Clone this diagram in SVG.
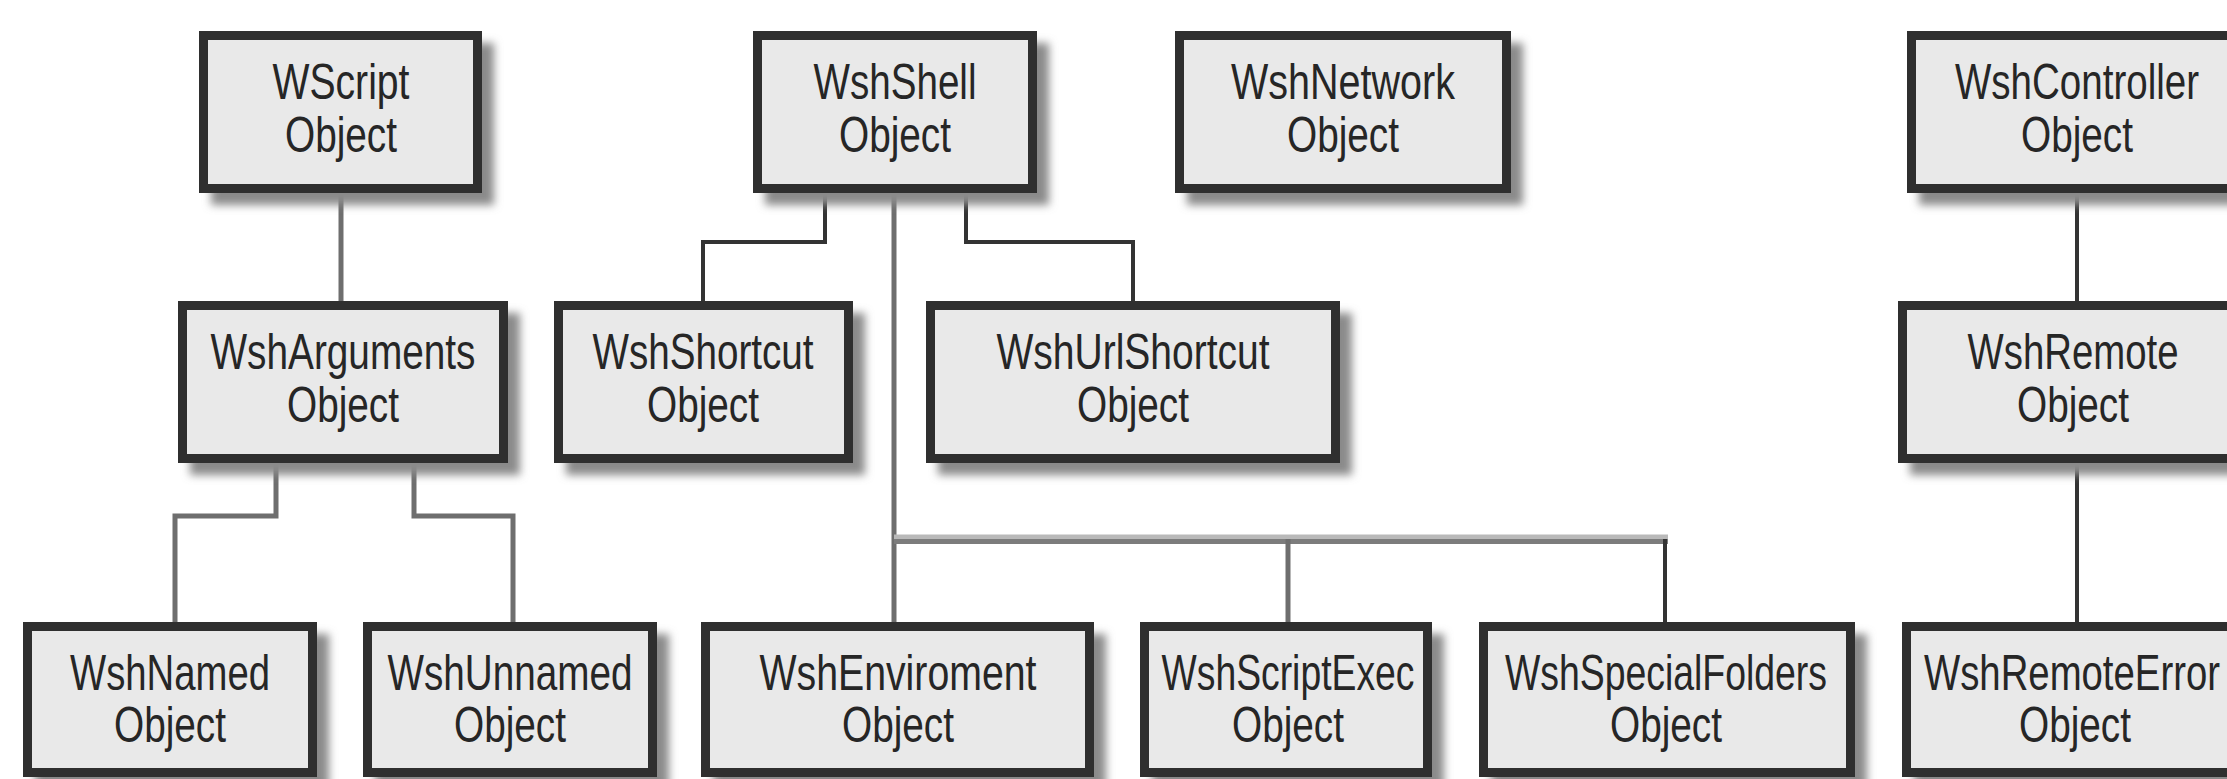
<svg xmlns="http://www.w3.org/2000/svg" width="2227" height="779" viewBox="0 0 2227 779">
<style>
.box{fill:#e9e9e9;stroke:#2f2f2f;stroke-width:9}
.sh{fill:#8a8a8a;filter:url(#blur)}
.t{font-family:"Liberation Sans",Arial,sans-serif;font-size:50px;fill:#262626;text-anchor:middle}
.c{fill:none;stroke:#6e6e6e;stroke-width:5}
.cd{fill:none;stroke:#333;stroke-width:4}
</style>
<defs>
<filter id="blur" x="-20%" y="-20%" width="140%" height="140%"><feGaussianBlur stdDeviation="4"/></filter>
</defs>
<rect width="2227" height="779" fill="#fff"/>
<g id="connectors">
<path class="c" d="M341,193 V301"/>
<path class="cd" d="M825,193 V242 H703 V301"/>
<path class="cd" d="M966,193 V242 H1133 V301"/>
<path class="c" d="M894,193 V622"/>
<path d="M894,537 H1668" fill="none" stroke="#b9b9b9" stroke-width="5"/>
<path d="M894,541.5 H1668" fill="none" stroke="#7c7c7c" stroke-width="5"/>
<path class="c" d="M1288,539 V622"/>
<path class="cd" d="M1665,539 V622"/>
<path class="c" d="M276,463 V516 H175 V622"/>
<path class="c" d="M414,463 V516 H513 V622"/>
<path class="cd" d="M2077,193 V301"/>
<path class="cd" d="M2077,463 V622"/>
</g>
<g id="WScript">
<rect class="sh" x="211" y="43" width="283" height="162"/>
<rect class="box" x="203.5" y="35.5" width="274" height="153"/>
<text class="t" x="341" y="99" textLength="137" lengthAdjust="spacingAndGlyphs">WScript</text>
<text class="t" x="341" y="152" textLength="112" lengthAdjust="spacingAndGlyphs">Object</text>
</g>
<g id="WshShell">
<rect class="sh" x="765" y="43" width="284" height="162"/>
<rect class="box" x="757.5" y="35.5" width="275" height="153"/>
<text class="t" x="895" y="99" textLength="163" lengthAdjust="spacingAndGlyphs">WshShell</text>
<text class="t" x="895" y="152" textLength="112" lengthAdjust="spacingAndGlyphs">Object</text>
</g>
<g id="WshNetwork">
<rect class="sh" x="1187" y="43" width="336" height="162"/>
<rect class="box" x="1179.5" y="35.5" width="327" height="153"/>
<text class="t" x="1343" y="99" textLength="224" lengthAdjust="spacingAndGlyphs">WshNetwork</text>
<text class="t" x="1343" y="152" textLength="112" lengthAdjust="spacingAndGlyphs">Object</text>
</g>
<g id="WshController">
<rect class="sh" x="1919" y="43" width="340" height="162"/>
<rect class="box" x="1911.5" y="35.5" width="331" height="153"/>
<text class="t" x="2077" y="99" textLength="244" lengthAdjust="spacingAndGlyphs">WshController</text>
<text class="t" x="2077" y="152" textLength="112" lengthAdjust="spacingAndGlyphs">Object</text>
</g>
<g id="WshArguments">
<rect class="sh" x="190" y="313" width="330" height="162"/>
<rect class="box" x="182.5" y="305.5" width="321" height="153"/>
<text class="t" x="343" y="369" textLength="265" lengthAdjust="spacingAndGlyphs">WshArguments</text>
<text class="t" x="343" y="422" textLength="112" lengthAdjust="spacingAndGlyphs">Object</text>
</g>
<g id="WshShortcut">
<rect class="sh" x="566" y="313" width="299" height="162"/>
<rect class="box" x="558.5" y="305.5" width="290" height="153"/>
<text class="t" x="703" y="369" textLength="221" lengthAdjust="spacingAndGlyphs">WshShortcut</text>
<text class="t" x="703" y="422" textLength="112" lengthAdjust="spacingAndGlyphs">Object</text>
</g>
<g id="WshUrlShortcut">
<rect class="sh" x="938" y="313" width="414" height="162"/>
<rect class="box" x="930.5" y="305.5" width="405" height="153"/>
<text class="t" x="1133" y="369" textLength="273" lengthAdjust="spacingAndGlyphs">WshUrlShortcut</text>
<text class="t" x="1133" y="422" textLength="112" lengthAdjust="spacingAndGlyphs">Object</text>
</g>
<g id="WshRemote">
<rect class="sh" x="1910" y="313" width="358" height="162"/>
<rect class="box" x="1902.5" y="305.5" width="349" height="153"/>
<text class="t" x="2073" y="369" textLength="211" lengthAdjust="spacingAndGlyphs">WshRemote</text>
<text class="t" x="2073" y="422" textLength="112" lengthAdjust="spacingAndGlyphs">Object</text>
</g>
<g id="WshNamed">
<rect class="sh" x="35" y="634" width="294" height="160"/>
<rect class="box" x="27.5" y="626.5" width="285" height="146"/>
<text class="t" x="170" y="690" textLength="200" lengthAdjust="spacingAndGlyphs">WshNamed</text>
<text class="t" x="170" y="742" textLength="112" lengthAdjust="spacingAndGlyphs">Object</text>
</g>
<g id="WshUnnamed">
<rect class="sh" x="375" y="634" width="294" height="160"/>
<rect class="box" x="367.5" y="626.5" width="285" height="146"/>
<text class="t" x="510" y="690" textLength="245" lengthAdjust="spacingAndGlyphs">WshUnnamed</text>
<text class="t" x="510" y="742" textLength="112" lengthAdjust="spacingAndGlyphs">Object</text>
</g>
<g id="WshEnviroment">
<rect class="sh" x="713" y="634" width="393" height="160"/>
<rect class="box" x="705.5" y="626.5" width="384" height="146"/>
<text class="t" x="898" y="690" textLength="277" lengthAdjust="spacingAndGlyphs">WshEnviroment</text>
<text class="t" x="898" y="742" textLength="112" lengthAdjust="spacingAndGlyphs">Object</text>
</g>
<g id="WshScriptExec">
<rect class="sh" x="1152" y="634" width="292" height="160"/>
<rect class="box" x="1144.5" y="626.5" width="283" height="146"/>
<text class="t" x="1288" y="690" textLength="253" lengthAdjust="spacingAndGlyphs">WshScriptExec</text>
<text class="t" x="1288" y="742" textLength="112" lengthAdjust="spacingAndGlyphs">Object</text>
</g>
<g id="WshSpecialFolders">
<rect class="sh" x="1491" y="634" width="376" height="160"/>
<rect class="box" x="1483.5" y="626.5" width="367" height="146"/>
<text class="t" x="1666" y="690" textLength="322" lengthAdjust="spacingAndGlyphs">WshSpecialFolders</text>
<text class="t" x="1666" y="742" textLength="112" lengthAdjust="spacingAndGlyphs">Object</text>
</g>
<g id="WshRemoteError">
<rect class="sh" x="1914" y="634" width="350" height="160"/>
<rect class="box" x="1906.5" y="626.5" width="341" height="146"/>
<text class="t" x="2072" y="690" textLength="296" lengthAdjust="spacingAndGlyphs">WshRemoteError</text>
<text class="t" x="2075" y="742" textLength="112" lengthAdjust="spacingAndGlyphs">Object</text>
</g>
</svg>
